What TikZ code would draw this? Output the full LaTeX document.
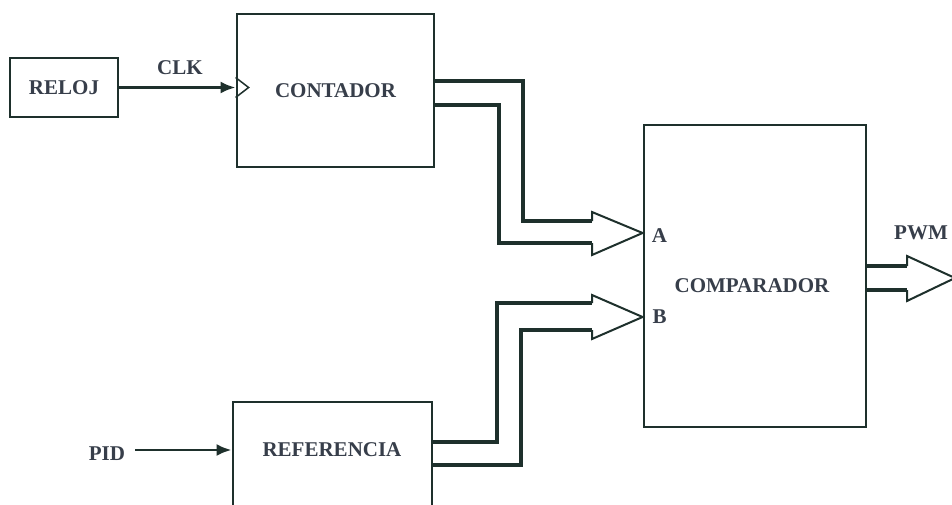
\documentclass[tikz,border=0pt]{standalone}
\usepackage{fontspec}
\setmainfont{Liberation Serif}
\usetikzlibrary{arrows.meta,calc}
\definecolor{ink}{RGB}{30,48,44}
\definecolor{txt}{RGB}{55,62,74}
\tikzset{
  blk/.style={draw=ink, line width=2.8pt, inner sep=0pt, text=txt,
    font=\bfseries\fontsize{21}{24}\selectfont, text height=14pt, text depth=0pt},
  lbl/.style={text=txt, font=\bfseries\fontsize{21}{24}\selectfont, inner sep=0pt,
    text height=14pt, text depth=0pt},
  sig/.style={draw=ink, line width=2.8pt, -{Latex[length=15pt,width=12pt]}},
  bus/.style={draw=ink, line width=3.8pt, line join=miter},
  head/.style={draw=ink, line width=2pt, line join=miter},
}
\begin{document}
\begin{tikzpicture}[x=1pt,y=-1pt]
\path[use as bounding box, clip] (0,0) rectangle (952,505);
\fill[white] (0,0) rectangle (952,505);

% blocks
\node[blk, minimum width=108pt, minimum height=59pt] (reloj) at (64,87.5) {RELOJ};
\node[blk, minimum width=197pt, minimum height=153pt] (cont) at (335.5,90.5) {CONTADOR};
\node[blk, minimum width=222pt, minimum height=302pt] (comp) at (755,276) {};
\node[lbl] (compt) at (752,285) {COMPARADOR};
\node[blk, minimum width=199pt, minimum height=112pt] (ref) at (332.5,458) {};
\node[lbl] (reft) at (332,449) {REFERENCIA};

% labels
\node[lbl] (clkt) at (180,68) {CLK};
\node[lbl] (pid) at (107,453) {PID};
\node[lbl] (aport) at (659.5,235) {A};
\node[lbl] (bport) at (659.5,316) {B};
\node[lbl] (pwmt) at (921,232) {PWM};

% clock line and clock input triangle
\coordinate (clk) at (reloj.east -| cont.west);
\draw[sig] (reloj.east) -- (clk);
\draw[draw=ink, line width=1.5pt, line join=miter]
  ($(clk)+(0,-10)$) -- ($(clk)+(13,0)$) -- ($(clk)+(0,10)$);

% PID input
\coordinate (pidout) at (135,450);
\draw[sig] (pidout) -- (pidout -| ref.west);

% bus CONTADOR -> A
\coordinate (atip) at (comp.west |- 0,233);
\draw[bus] (cont.east |- 0,81) -- (523,81) -- (523,221) -- (592,221);
\draw[bus] (cont.east |- 0,105) -- (499,105) -- (499,243) -- (592,243);
\draw[head] (592,221) -- (592,212) -- (atip) -- (592,255) -- (592,243);

% bus REFERENCIA -> B
\coordinate (btip) at (comp.west |- 0,317);
\draw[bus] (ref.east |- 0,442) -- (497,442) -- (497,303) -- (592,303);
\draw[bus] (ref.east |- 0,465) -- (521,465) -- (521,330) -- (592,330);
\draw[head] (592,303) -- (592,295) -- (btip) -- (592,339) -- (592,330);

% bus PWM output
\coordinate (pwmtip) at (955,278);
\draw[bus] (comp.east |- 0,266) -- (907,266);
\draw[bus] (comp.east |- 0,290) -- (907,290);
\draw[head] (907,266) -- (907,256) -- (pwmtip) -- (907,301) -- (907,290);
\end{tikzpicture}
\end{document}
